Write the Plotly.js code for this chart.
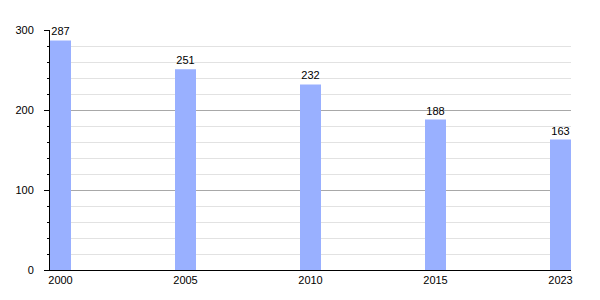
<!DOCTYPE html>
<html>
<head>
<meta charset="utf-8">
<script src="https://cdn.plot.ly/plotly-3.0.1.min.js"></script>
<style>html,body{margin:0;padding:0;background:#fff;}#chart{width:600px;height:300px;}</style>
</head>
<body>
<div id="chart"></div>
<script>
const years = ["2000", "2005", "2010", "2015", "2023"];
const values = [287, 251, 232, 188, 163];
const yTicks = [0, 100, 200, 300];

const trace = {
  type: 'bar',
  x: years,
  y: values,
  text: values.map(String),
  textposition: 'outside',
  cliponaxis: false,
  textfont: {family: 'Liberation Sans, Arial, sans-serif', size: 11, color: '#000'},
  marker: {color: '#99b0ff', line: {width: 0}},
  width: 0.168,
  hoverinfo: 'none'
};

const layout = {
  width: 600, height: 300,
  margin: {l: 50, r: 29, t: 30, b: 30, pad: 0},
  paper_bgcolor: '#fff', plot_bgcolor: '#fff',
  font: {family: 'Liberation Sans, Arial, sans-serif', size: 11, color: '#000'},
  showlegend: false,
  xaxis: {
    type: 'category',
    range: [-0.084, 4.084],
    showline: true, linecolor: '#000', linewidth: 1,
    ticks: '', showgrid: false, zeroline: false,
    tickfont: {size: 11}
  },
  yaxis: {
    range: [0, 300],
    tickvals: yTicks,
    ticks: 'outside', ticklen: 5, tickcolor: '#000',
    ticklabelstandoff: 8,
    showline: true, linecolor: '#000', linewidth: 1,
    showgrid: true, gridcolor: '#a8a8a8', gridwidth: 1,
    zeroline: false,
    tickfont: {size: 11},
    minor: {dtick: 20, ticks: 'outside', ticklen: 2, tickcolor: '#000', showgrid: true, gridcolor: '#e2e2e2', gridwidth: 1}
  }
};

Plotly.newPlot('chart', [trace], layout, {staticPlot: true, displayModeBar: false});
</script>
</body>
</html>
